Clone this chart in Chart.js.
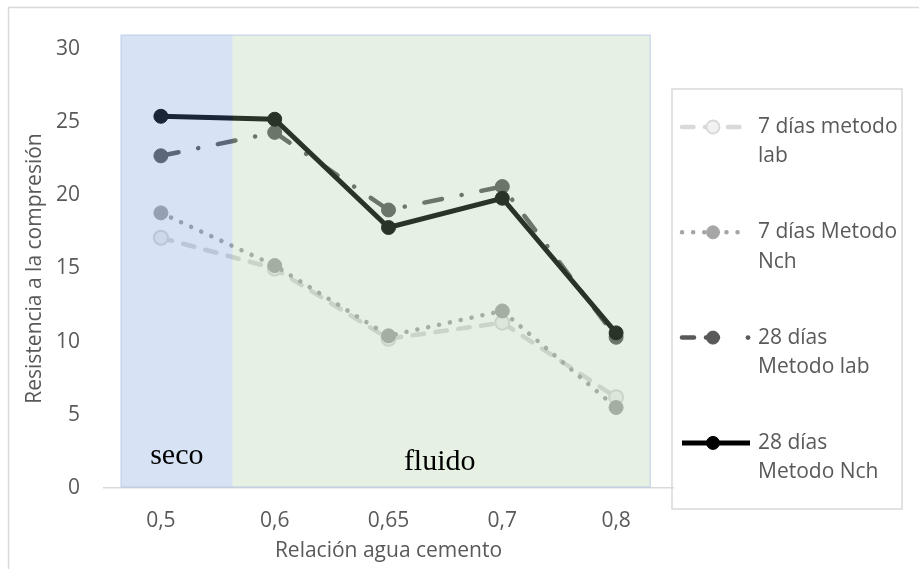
<!DOCTYPE html>
<html>
<head>
<meta charset="utf-8">
<script src="https://cdn.jsdelivr.net/npm/chart.js@4.4.1/dist/chart.umd.min.js"></script>
<style>
  body { margin: 0; background: #fff; }
  canvas { display: block; }
</style>
</head>
<body>
<canvas id="grafico" width="919" height="569"></canvas>
<script>
// datos
const relacion = ['0,5', '0,6', '0,65', '0,7', '0,8'];
const series = ['7 días metodo lab', '7 días Metodo Nch', '28 días Metodo lab', '28 días Metodo Nch'];
const dias7Lab = [17.1, 15.0, 10.2, 11.3, 6.2];
const dias7Nch = [18.8, 15.2, 10.4, 12.1, 5.5];
const dias28Lab = [22.7, 24.3, 19.0, 20.6, 10.3];
const dias28Nch = [25.4, 25.2, 17.8, 19.8, 10.6];
const yMin = 0, yMax = 30, yPaso = 5;

// lineas del legend en dos renglones
const leyendaTexto = [['7 días metodo', 'lab'], ['7 días Metodo', 'Nch'], ['28 días', 'Metodo lab'], ['28 días', 'Metodo Nch']];

const fuente = '"Open Sans", sans-serif';
const gris = '#595959';

// zonas seco / fluido (en unidades de los ejes), van encima de las lineas
const zonas = {
    id: 'zonas',
    beforeDraw(chart) {
        const ctx = chart.ctx;
        ctx.save();
        ctx.strokeStyle = '#d9d9d9';
        ctx.lineWidth = 1.5;
        ctx.strokeRect(8.5, 7.5, 1000, 1000);
        ctx.restore();
    },
    afterDatasetsDraw(chart) {
        const { ctx, scales: { x, y } } = chart;
        const arriba = y.getPixelForValue(30.95);
        const abajo = y.getPixelForValue(0.07);
        const xa = x.getPixelForValue(-0.35);
        const xb = x.getPixelForValue(0.63);
        const xc = x.getPixelForValue(4.3);

        ctx.save();
        ctx.fillStyle = 'rgba(100,146,215,0.26)';
        ctx.fillRect(xa, arriba, xb - xa, abajo - arriba);
        ctx.fillStyle = 'rgba(162,200,146,0.26)';
        ctx.fillRect(xb, arriba, xc - xb, abajo - arriba);
        ctx.strokeStyle = 'rgba(180,199,231,0.6)';
        ctx.lineWidth = 1.5;
        ctx.strokeRect(xa, arriba, xc - xa, abajo - arriba);

        ctx.fillStyle = '#000';
        ctx.font = '30px "Liberation Serif", serif';
        ctx.textAlign = 'center';
        ctx.textBaseline = 'alphabetic';
        ctx.fillText('seco', x.getPixelForValue(0.14), y.getPixelForValue(1.64));
        ctx.fillText('fluido', x.getPixelForValue(2.45), y.getPixelForValue(1.23));
        ctx.restore();
    }
};

// leyenda dibujada a mano (texto en dos renglones como en Excel)
const leyenda = {
    id: 'leyenda',
    afterDraw(chart) {
        const ctx = chart.ctx;
        ctx.save();
        ctx.strokeStyle = '#d9d9d9';
        ctx.lineWidth = 1.5;
        ctx.strokeRect(672, 89, 230, 420);

        chart.data.datasets.forEach((ds, i) => {
            const yy = 127 + i * 105.3;
            ctx.save();
            ctx.strokeStyle = ds.borderColor;
            ctx.lineWidth = ds.borderWidth;
            ctx.lineCap = ds.borderCapStyle || 'butt';
            // el guion-punto en la leyenda de Excel queda: raya, marcador, punto
            ctx.setLineDash(i === 2 ? [12, 200] : (ds.borderDash || []));
            ctx.beginPath();
            ctx.moveTo(682, yy);
            ctx.lineTo(i === 3 ? 750 : 746, yy);
            ctx.stroke();
            ctx.setLineDash([]);
            if (i === 2) {
                ctx.beginPath();
                ctx.moveTo(706, yy);
                ctx.lineTo(718, yy);
                ctx.stroke();
                ctx.beginPath();
                ctx.arc(748, yy, 2.4, 0, Math.PI * 2);
                ctx.fillStyle = ds.borderColor;
                ctx.fill();
            }
            ctx.beginPath();
            ctx.arc(713, yy, 6.5, 0, Math.PI * 2);
            ctx.fillStyle = ds.pointBackgroundColor;
            ctx.fill();
            ctx.strokeStyle = ds.pointBorderColor;
            ctx.lineWidth = ds.pointBorderWidth;
            ctx.stroke();
            ctx.restore();

            ctx.fillStyle = gris;
            ctx.font = '21px ' + fuente;
            ctx.textAlign = 'left';
            ctx.textBaseline = 'middle';
            leyendaTexto[i].forEach((t, k) => ctx.fillText(t, 758, yy + k * 29.5));
        });
        ctx.restore();
    }
};

const graficoRC = document.getElementById('grafico');

const chart = new Chart(graficoRC, {
    type: 'line',
    data: {
        labels: relacion,
        datasets: [
            {
                label: series[0],
                data: dias7Lab,
                borderColor: '#d9d9d9',
                borderWidth: 4.5,
                borderDash: [11.5, 11.5],
                borderCapStyle: 'round',
                pointRadius: 7,
                pointBackgroundColor: '#f2f2f2',
                pointBorderColor: '#d9d9d9',
                pointBorderWidth: 2,
                order: 4
            },
            {
                label: series[1],
                data: dias7Nch,
                borderColor: '#a6a6a6',
                borderWidth: 4.5,
                borderDash: [0.1, 11],
                borderCapStyle: 'round',
                pointRadius: 7,
                pointBackgroundColor: '#a6a6a6',
                pointBorderColor: '#a6a6a6',
                pointBorderWidth: 1,
                order: 3
            },
            {
                label: series[2],
                data: dias28Lab,
                borderColor: '#595959',
                borderWidth: 4.5,
                borderDash: [18, 20, 0.1, 20],
                borderCapStyle: 'round',
                pointRadius: 7,
                pointBackgroundColor: '#595959',
                pointBorderColor: '#595959',
                pointBorderWidth: 1,
                order: 2
            },
            {
                label: series[3],
                data: dias28Nch,
                borderColor: '#000000',
                borderWidth: 5,
                pointRadius: 7,
                pointBackgroundColor: '#000000',
                pointBorderColor: '#000000',
                pointBorderWidth: 1,
                order: 1
            }
        ]
    },
    options: {
        responsive: false,
        devicePixelRatio: 1,
        animation: false,
        layout: {
            padding: { left: 0, top: 49, right: 246, bottom: 0 }
        },
        plugins: {
            legend: { display: false },
            tooltip: { enabled: false }
        },
        scales: {
            x: {
                offset: true,
                grid: { display: false, drawTicks: false, offset: true },
                border: { display: true, color: '#d9d9d9', width: 1.5 },
                ticks: { color: gris, font: { family: fuente, size: 21 }, padding: 20, maxRotation: 0 },
                title: {
                    display: true,
                    text: 'Relación agua cemento',
                    color: gris,
                    font: { family: fuente, size: 21 },
                    padding: { top: 0, bottom: 5 }
                },
                afterFit(scale) { scale.height = 81; }
            },
            y: {
                min: yMin,
                max: yMax,
                grid: { display: false, drawTicks: false },
                border: { display: false },
                ticks: { stepSize: yPaso, color: gris, font: { family: fuente, size: 21 }, padding: 24 },
                title: {
                    display: true,
                    text: 'Resistencia a la compresión',
                    color: gris,
                    font: { family: fuente, size: 21 },
                    padding: { top: 22, bottom: 0 }
                },
                afterFit(scale) { scale.width = 104; }
            }
        }
    },
    plugins: [zonas, leyenda]
});
</script>
</body>
</html>
